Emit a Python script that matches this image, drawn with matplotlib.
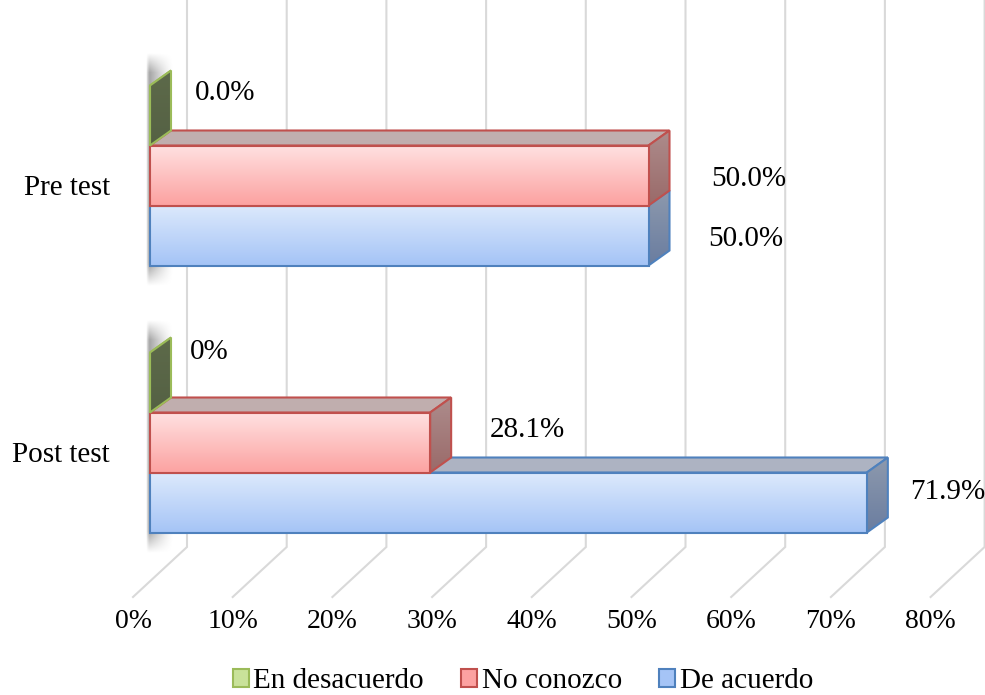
import numpy as np
import matplotlib
matplotlib.use("Agg")
import matplotlib.pyplot as plt
from matplotlib.patches import Polygon, Patch, Rectangle
from matplotlib.colors import to_rgb

# ---------------- data ----------------
categories = ["Post test", "Pre test"]
series_names = ["De acuerdo", "No conozco", "En desacuerdo"]
values = {
    "De acuerdo":    [71.9, 50.0],
    "No conozco":    [28.1, 50.0],
    "En desacuerdo": [0.0, 0.0],
}
label_formats = {
    "De acuerdo":    ["{:.1f}%", "{:.1f}%"],
    "No conozco":    ["{:.1f}%", "{:.1f}%"],
    "En desacuerdo": ["{:.0f}%", "{:.1f}%"],
}
ticks = [0, 10, 20, 30, 40, 50, 60, 70, 80]
legend_order = ["En desacuerdo", "No conozco", "De acuerdo"]

# ---------------- style ----------------
plt.rcParams['font.family'] = ['Liberation Serif', 'DejaVu Serif']
W, H = 985, 695
PX_PER_UNIT_X = 9.97           # pixels per percent
PX_PER_UNIT_Y = 267.0          # pixels per category step
X0_PX = 150.0                  # pixel of 0% on bar front plane
Y0_PX = 442.5                  # pixel of first category centre

styles = {
    "De acuerdo": dict(edge="#4f81bd", top_c="#dce9fc", bot_c="#a5c4f6",
                       roof="#adb3c2", side_t="#8d99ad", side_b="#6a7da0"),
    "No conozco": dict(edge="#c0504d", top_c="#ffe1e1", bot_c="#fca2a1",
                       roof="#c0aeae", side_t="#ad8c8c", side_b="#9a6a69"),
    "En desacuerdo": dict(edge="#9bbb59", top_c="#eef6dc", bot_c="#c9e29a",
                          roof="#8f9a79", side_t="#5d6a4a", side_b="#556144"),
}

bar_h = 60 / PX_PER_UNIT_Y
dx = 21 / PX_PER_UNIT_X
dy = 15 / PX_PER_UNIT_Y
back_dx = 37 / PX_PER_UNIT_X
floor_front_dx = -17 / PX_PER_UNIT_X
wall_bottom = (Y0_PX - 547) / PX_PER_UNIT_Y
floor_front = (Y0_PX - 597) / PX_PER_UNIT_Y
top_y = Y0_PX / PX_PER_UNIT_Y

fig = plt.figure(figsize=(W / 100, H / 100), dpi=100)
ax = fig.add_axes([0, 0, 1, 1])
ax.set_xlim(-X0_PX / PX_PER_UNIT_X, (W - X0_PX) / PX_PER_UNIT_X)
ax.set_ylim(-(H - Y0_PX) / PX_PER_UNIT_Y, top_y)
ax.set_autoscale_on(False)
ax.axis("off")

# gridlines (back wall + floor)
grid_c = "#d9d9d9"
for t in ticks:
    ax.plot([t + back_dx, t + back_dx, t + floor_front_dx],
            [top_y, wall_bottom, floor_front], color=grid_c, lw=1.5,
            zorder=1, solid_joinstyle="miter")


def vgrad(x0, x1, y0, y1, ctop, cbot, z, clip=None):
    n = 64
    a = np.linspace(0, 1, n)[:, None]
    ct, cb = np.array(to_rgb(ctop)), np.array(to_rgb(cbot))
    img = (ct[None, :] * (1 - a[..., None]) + cb[None, :] * a[..., None])
    img = np.repeat(img, 2, axis=1)
    im = ax.imshow(img, extent=(x0, x1, y0, y1), origin="upper",
                   aspect="auto", zorder=z, interpolation="bilinear")
    if clip is not None:
        im.set_clip_path(clip)
    return im


# soft shadows on the left of each bar group
for ci in range(len(categories)):
    yb = ci - 1.5 * bar_h
    ytop = yb + 3 * bar_h + dy
    sy0 = yb - 22 / PX_PER_UNIT_Y
    sy1 = ytop + 18 / PX_PER_UNIT_Y
    ny, nx = 120, 40
    yy = np.linspace(sy1, sy0, ny)[:, None]
    xx = np.linspace(0, 1, nx)[None, :]
    fade_top = np.clip((sy1 - yy) / (20 / PX_PER_UNIT_Y), 0, 1)
    fade_bot = np.clip((yy - sy0) / (22 / PX_PER_UNIT_Y), 0, 1)
    fx = np.clip(1 - xx, 0, 1) ** 1.3
    fx = np.where(xx < 0.12, fx * (xx / 0.12) ** 0.8, fx)
    alpha = 0.42 * fade_top * fade_bot * fx
    img = np.zeros((ny, nx, 4))
    img[..., 3] = alpha
    ax.imshow(img, extent=(-0.4, 2.4, sy0, sy1), origin="upper",
              aspect="auto", zorder=2, interpolation="bilinear")

z = 3
for ci, cat in enumerate(categories):
    for si, s in enumerate(series_names):
        v = values[s][ci]
        st = styles[s]
        y0 = ci - 1.5 * bar_h + si * bar_h
        y1 = y0 + bar_h
        # roof
        roof = Polygon([(0, y1), (v, y1), (v + dx, y1 + dy), (dx, y1 + dy)],
                       closed=True, facecolor=st["roof"], edgecolor=st["edge"],
                       lw=1.5, zorder=z, joinstyle="miter")
        ax.add_patch(roof)
        # side
        side = Polygon([(v, y0), (v, y1), (v + dx, y1 + dy), (v + dx, y0 + dy)],
                       closed=True, facecolor="none", edgecolor=st["edge"],
                       lw=1.5, zorder=z + 0.2, joinstyle="miter")
        side_fill = Polygon(side.get_xy(), closed=True, facecolor="none",
                            edgecolor="none", zorder=z + 0.1)
        ax.add_patch(side_fill)
        vgrad(v, v + dx, y0, y1 + dy, st["side_t"], st["side_b"], z + 0.1,
              clip=side_fill)
        ax.add_patch(side)
        # front
        if v > 0:
            vgrad(0, v, y0, y1, st["top_c"], st["bot_c"], z + 0.3)
        ax.add_patch(Rectangle((0, y0), v, bar_h, facecolor="none",
                               edgecolor=st["edge"], lw=1.5, zorder=z + 0.4,
                               joinstyle="miter"))
        z += 1

# data labels (manual offsets as in the original)
label_offsets = {  # (dx in %, dy in category units)
    "De acuerdo":    [(4.3, 0.04), (6.0, -0.012)],
    "No conozco":    [(6.0, 0.045), (6.3, -0.012)],
    "En desacuerdo": [(4.0, 0.115), (4.5, 0.085)],
}
for ci, cat in enumerate(categories):
    for si, s in enumerate(series_names):
        v = values[s][ci]
        y = ci - 1.5 * bar_h + (si + 0.5) * bar_h
        ox, oy = label_offsets[s][ci]
        ax.text(v + ox, y + oy, label_formats[s][ci].format(v),
                ha="left", va="center", fontsize=21, zorder=50)

# category labels
for ci, cat in enumerate(categories):
    ax.text(-4.0, ci - 0.047, cat, ha="right", va="center", fontsize=21)

# tick labels on the floor front
tick_y = (Y0_PX - 622) / PX_PER_UNIT_Y
for t in ticks:
    ax.text(t + floor_front_dx, tick_y, f"{t}%", ha="center", va="center",
            fontsize=20)

# legend
handles = [Patch(facecolor=styles[s]["bot_c"], edgecolor=styles[s]["edge"],
                 lw=1.5, label=s) for s in legend_order]
ax.legend(handles=handles, loc="center", bbox_to_anchor=(0.531, 0.02),
          ncol=3, frameon=False, fontsize=21, handlelength=0.55,
          handleheight=0.55, handletextpad=0.15, columnspacing=1.28,
          borderpad=0, borderaxespad=0)

fig.savefig("out.png", dpi=100)
